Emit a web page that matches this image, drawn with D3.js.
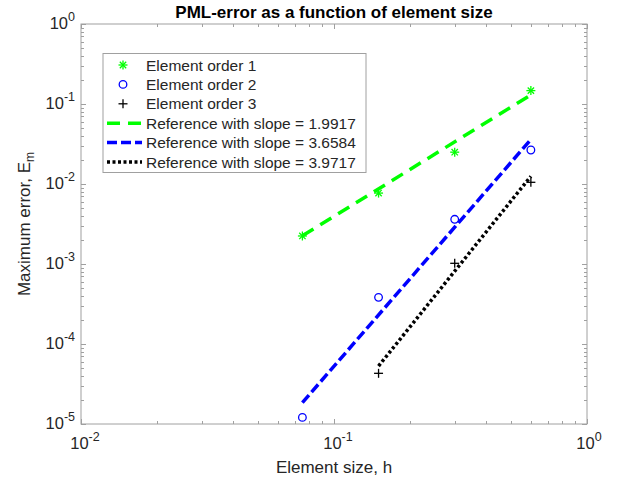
<!DOCTYPE html>
<html><head><meta charset="utf-8">
<script src="https://cdn.jsdelivr.net/npm/d3@7"></script>
<style>body{margin:0;background:#fff;} svg{display:block;font-family:"Liberation Sans",Arial,sans-serif;}</style>
</head><body>
<svg id="c" width="619" height="481"></svg>
<script>
const h = [0.075, 0.15, 0.3, 0.6];
const order1 = [2.24e-3, 7.7e-3, 0.025, 0.147];
const order2 = [1.21e-5, 3.83e-4, 3.62e-3, 0.0266];
const order3h = [0.15, 0.3, 0.6];
const order3 = [4.3e-5, 1.02e-3, 0.0105];
const ref1h = [0.075, 0.6], ref1 = [2.25e-3, 0.13];
const ref2h = [0.075, 0.6], ref2 = [1.85e-5, 0.036];
const ref3h = [0.15, 0.6], ref3 = [5.3e-5, 0.0125];
const legendLabels = ["Element order 1","Element order 2","Element order 3",
  "Reference with slope = 1.9917","Reference with slope = 3.6584","Reference with slope = 3.9717"];
const xTickExps = [-2, -1, 0];
const yTickExps = [-5, -4, -3, -2, -1, 0];

const svg = d3.select("#c");
const L = 81, R = 587, T = 24, B = 424;
const x = d3.scaleLog().domain([0.01, 1]).range([L, R]);
const y = d3.scaleLog().domain([1e-5, 1]).range([B, T]);
const axisCol = "#a0a0a0", textCol = "#262626";

// box
svg.append("rect").attr("x", L).attr("y", T).attr("width", R - L).attr("height", B - T)
  .attr("fill", "none").attr("stroke", axisCol).attr("stroke-width", 1);

// ticks
const g = svg.append("g").attr("stroke", axisCol).attr("stroke-width", 1);
x.ticks().forEach(v => {
  const major = Math.abs(Math.log10(v) - Math.round(Math.log10(v))) < 1e-9;
  const len = major ? 5 : 3;
  const px = Math.round(x(v)) + 0.5;
  g.append("line").attr("x1", px).attr("x2", px).attr("y1", B).attr("y2", B - len);
  g.append("line").attr("x1", px).attr("x2", px).attr("y1", T).attr("y2", T + len);
});
y.ticks().forEach(v => {
  const major = Math.abs(Math.log10(v) - Math.round(Math.log10(v))) < 1e-9;
  const len = major ? 5 : 3;
  const py = Math.round(y(v)) + 0.5;
  g.append("line").attr("y1", py).attr("y2", py).attr("x1", L).attr("x2", L + len);
  g.append("line").attr("y1", py).attr("y2", py).attr("x1", R).attr("x2", R - len);
});

// tick labels
xTickExps.forEach(e => {
  const t = svg.append("text").attr("x", x(Math.pow(10, e)) + (e < 0 ? 4 : 2)).attr("y", 449)
    .attr("text-anchor", "middle").attr("fill", textCol).attr("font-size", 16.5);
  t.append("tspan").text("10");
  t.append("tspan").attr("dy", -8).attr("font-size", 12.5).text(e);
});
yTickExps.forEach(e => {
  const t = svg.append("text").attr("x", 75).attr("y", y(Math.pow(10, e)) + 5)
    .attr("text-anchor", "end").attr("fill", textCol).attr("font-size", 16.5);
  t.append("tspan").text("10");
  t.append("tspan").attr("dy", -8).attr("font-size", 12.5).text(e);
});

// axis labels & title
svg.append("text").attr("x", (L + R) / 2).attr("y", 473).attr("text-anchor", "middle")
  .attr("fill", textCol).attr("font-size", 17).text("Element size, h");
const yl = svg.append("text").attr("transform", `translate(30,${(T + B) / 2}) rotate(-90)`)
  .attr("text-anchor", "middle").attr("fill", textCol).attr("font-size", 17);
yl.append("tspan").text("Maximum error, E");
yl.append("tspan").attr("dy", 4).attr("font-size", 12).text("m");
svg.append("text").attr("x", (L + R) / 2).attr("y", 18).attr("text-anchor", "middle")
  .attr("fill", "#000").attr("font-size", 17).attr("font-weight", "bold")
  .text("PML-error as a function of element size");

// reference lines
const line = d3.line().x(d => x(d[0])).y(d => y(d[1]));
const refs = [
  {hs: ref1h, vs: ref1, col: "#00ff00", dash: "13,8"},
  {hs: ref2h, vs: ref2, col: "#0000ff", dash: "10,4"},
  {hs: ref3h, vs: ref3, col: "#000000", dash: "3,2.5"}
];
refs.forEach(r => {
  svg.append("path").attr("d", line(r.hs.map((v, i) => [v, r.vs[i]])))
    .attr("fill", "none").attr("stroke", r.col).attr("stroke-width", 3.5)
    .attr("stroke-dasharray", r.dash);
});

// markers
function star(sel, cx, cy, s, col) {
  for (let k = 0; k < 4; k++) {
    const a = k * Math.PI / 4;
    sel.append("line").attr("x1", cx - s * Math.cos(a)).attr("y1", cy - s * Math.sin(a))
      .attr("x2", cx + s * Math.cos(a)).attr("y2", cy + s * Math.sin(a))
      .attr("stroke", col).attr("stroke-width", 1.3);
  }
}
function plus(sel, cx, cy, s, col) {
  sel.append("line").attr("x1", cx - s).attr("x2", cx + s).attr("y1", cy).attr("y2", cy).attr("stroke", col).attr("stroke-width", 1.3);
  sel.append("line").attr("x1", cx).attr("x2", cx).attr("y1", cy - s).attr("y2", cy + s).attr("stroke", col).attr("stroke-width", 1.3);
}
function circ(sel, cx, cy, r, col) {
  sel.append("circle").attr("cx", cx).attr("cy", cy).attr("r", r).attr("fill", "none")
    .attr("stroke", col).attr("stroke-width", 1.3);
}
const mk = svg.append("g");
h.forEach((v, i) => star(mk, x(v), y(order1[i]), 4.5, "#00ff00"));
h.forEach((v, i) => circ(mk, x(v), y(order2[i]), 3.8, "#0000ff"));
order3h.forEach((v, i) => plus(mk, x(v), y(order3[i]), 4.5, "#000"));

// legend
const lg = svg.append("g");
lg.append("rect").attr("x", 103).attr("y", 53.5).attr("width", 263).attr("height", 119)
  .attr("fill", "#fff").attr("stroke", "#a0a0a0").attr("stroke-width", 1);
const rowY = i => 65 + i * 19.4;
legendLabels.forEach((lab, i) => {
  lg.append("text").attr("x", 146).attr("y", rowY(i) + 5.5).attr("font-size", 15.5)
    .attr("fill", textCol).text(lab);
});
star(lg, 123, rowY(0), 4.5, "#00ff00");
circ(lg, 123, rowY(1), 3.8, "#0000ff");
plus(lg, 123, rowY(2), 4.5, "#000");
refs.forEach((r, i) => {
  lg.append("line").attr("x1", 107).attr("x2", 142).attr("y1", rowY(3 + i)).attr("y2", rowY(3 + i))
    .attr("stroke", r.col).attr("stroke-width", 3.5).attr("stroke-dasharray", r.dash);
});
</script>
</body></html>
